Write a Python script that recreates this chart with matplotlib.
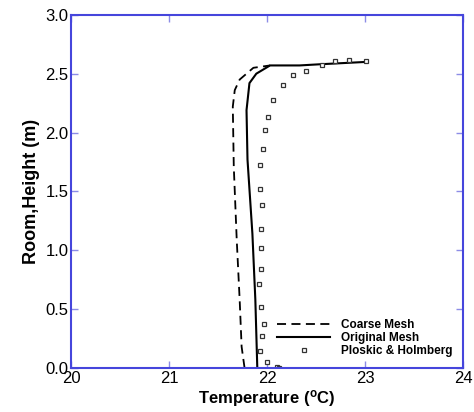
import matplotlib
matplotlib.use('Agg')
import matplotlib.pyplot as plt

plt.rcParams['font.family'] = ['Liberation Sans', 'DejaVu Sans']

# --- data ---
# Ploskic & Holmberg measurements (temperature, height)
exp_temp = [23.01, 22.84, 22.69, 22.56, 22.40, 22.26, 22.16, 22.06, 22.01, 21.98,
            21.96, 21.93, 21.93, 21.95, 21.94, 21.94, 21.94, 21.92, 21.94, 21.97,
            21.95, 21.93, 22.00, 22.10, 22.12]
exp_height = [2.61, 2.62, 2.61, 2.57, 2.52, 2.49, 2.40, 2.28, 2.13, 2.02,
              1.86, 1.72, 1.52, 1.38, 1.18, 1.02, 0.84, 0.71, 0.52, 0.37,
              0.27, 0.14, 0.05, 0.01, 0.0]

# Original mesh
orig_temp = [21.90, 21.88, 21.85, 21.80, 21.79, 21.82, 21.89, 22.03, 22.33, 22.54, 23.01]
orig_height = [0.0, 0.58, 1.14, 1.77, 2.19, 2.42, 2.50, 2.57, 2.57, 2.58, 2.60]

# Coarse mesh
coarse_temp = [21.77, 21.74, 21.72, 21.69, 21.66, 21.65, 21.67, 21.72, 21.86, 22.03]
coarse_height = [0.0, 0.18, 0.58, 1.09, 1.71, 2.22, 2.36, 2.45, 2.55, 2.57]

x_ticks = [20, 21, 22, 23, 24]
y_ticks = [0.0, 0.5, 1.0, 1.5, 2.0, 2.5, 3.0]

blue = '#4646dc'

fig = plt.figure(figsize=(4.74, 4.12), dpi=100)
ax = fig.add_axes([0.150, 0.107, 0.827, 0.857])

ax.plot(coarse_temp, coarse_height, color='black', linestyle=(0, (5, 3)),
        linewidth=1.3, label='Coarse Mesh')
ax.plot(orig_temp, orig_height, color='black', linestyle='-',
        linewidth=1.5, label='Original Mesh')
ax.plot(exp_temp, exp_height, linestyle='none', marker='s', markersize=3.5,
        markerfacecolor='white', markeredgecolor='#333333', markeredgewidth=0.9,
        label='Ploskic & Holmberg')

ax.set_xlim(20, 24)
ax.set_ylim(0, 3.0)
ax.set_xticks(x_ticks)
ax.set_yticks(y_ticks)
ax.set_xticklabels([str(t) for t in x_ticks])
ax.set_yticklabels(['%.1f' % t for t in y_ticks])

for s in ax.spines.values():
    s.set_color(blue)
    s.set_linewidth(1.5)
ax.tick_params(direction='in', length=5, width=1, color='#8c8ce6',
               top=True, right=True, labelsize=12, pad=2)

ax.set_xlabel('Temperature ($\\mathregular{^{o}}$C)', fontsize=12, fontweight='bold', labelpad=2)
ax.set_ylabel('Room,Height (m)', fontsize=13, fontweight='bold', labelpad=4)

leg = ax.legend(loc='lower right', frameon=False, handlelength=4.5,
                labelspacing=0.1, borderaxespad=0.5, handletextpad=0.9,
                prop={'weight': 'bold', 'size': 8.5})

fig.savefig('out.png', dpi=100)
